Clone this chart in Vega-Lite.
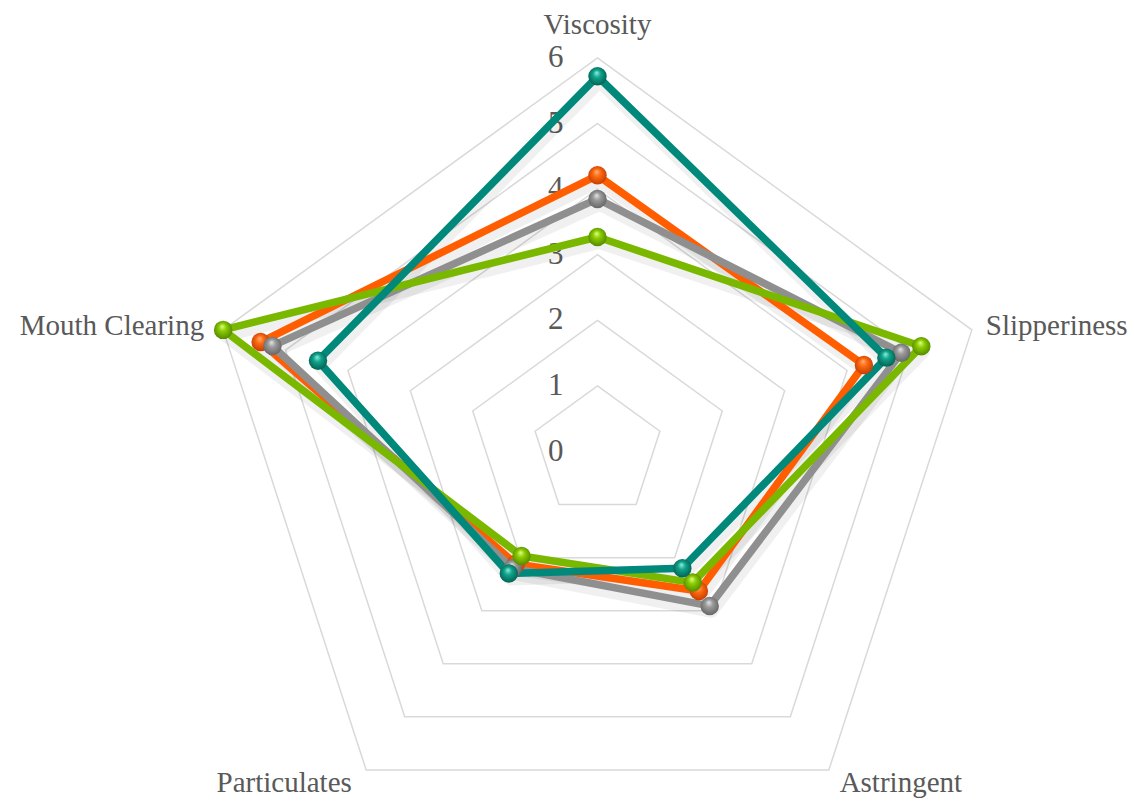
{
  "$schema": "https://vega.github.io/schema/vega-lite/v6.json",
  "width": 1134,
  "height": 801,
  "autosize": "none",
  "padding": 0,
  "background": "#ffffff",
  "config": {"view": {"stroke": null}, "font": "Liberation Serif"},
  "datasets": {
    "scores": [
      {"sample": "Sample 1", "attribute": "Viscosity", "k": 0, "score": 4.21},
      {"sample": "Sample 1", "attribute": "Slipperiness", "k": 1, "score": 4.27},
      {"sample": "Sample 1", "attribute": "Astringent", "k": 2, "score": 2.63},
      {"sample": "Sample 1", "attribute": "Particulates", "k": 3, "score": 2.12},
      {"sample": "Sample 1", "attribute": "Mouth Clearing", "k": 4, "score": 5.4},
      {"sample": "Sample 2", "attribute": "Viscosity", "k": 0, "score": 3.85},
      {"sample": "Sample 2", "attribute": "Slipperiness", "k": 1, "score": 4.87},
      {"sample": "Sample 2", "attribute": "Astringent", "k": 2, "score": 2.91},
      {"sample": "Sample 2", "attribute": "Particulates", "k": 3, "score": 2.2},
      {"sample": "Sample 2", "attribute": "Mouth Clearing", "k": 4, "score": 5.21},
      {"sample": "Sample 3", "attribute": "Viscosity", "k": 0, "score": 3.27},
      {"sample": "Sample 3", "attribute": "Slipperiness", "k": 1, "score": 5.19},
      {"sample": "Sample 3", "attribute": "Astringent", "k": 2, "score": 2.47},
      {"sample": "Sample 3", "attribute": "Particulates", "k": 3, "score": 1.97},
      {"sample": "Sample 3", "attribute": "Mouth Clearing", "k": 4, "score": 6.0},
      {"sample": "Sample 4", "attribute": "Viscosity", "k": 0, "score": 5.72},
      {"sample": "Sample 4", "attribute": "Slipperiness", "k": 1, "score": 4.63},
      {"sample": "Sample 4", "attribute": "Astringent", "k": 2, "score": 2.2},
      {"sample": "Sample 4", "attribute": "Particulates", "k": 3, "score": 2.3},
      {"sample": "Sample 4", "attribute": "Mouth Clearing", "k": 4, "score": 4.48}
    ],
    "attributes": [
      {"attribute": "Viscosity", "k": 0, "rings": [1, 2, 3, 4, 5, 6]},
      {"attribute": "Slipperiness", "k": 1, "rings": [1, 2, 3, 4, 5, 6]},
      {"attribute": "Astringent", "k": 2, "rings": [1, 2, 3, 4, 5, 6]},
      {"attribute": "Particulates", "k": 3, "rings": [1, 2, 3, 4, 5, 6]},
      {"attribute": "Mouth Clearing", "k": 4, "rings": [1, 2, 3, 4, 5, 6]}
    ],
    "ticks": [
      {"tick": 0}, {"tick": 1}, {"tick": 2}, {"tick": 3}, {"tick": 4}, {"tick": 5}, {"tick": 6}
    ]
  },
  "layer": [
    {
      "data": {"name": "attributes"},
      "transform": [
        {"flatten": ["rings"], "as": ["ring"]},
        {"calculate": "datum.ring * sin(datum.k * 2 * PI / 5)", "as": "px"},
        {"calculate": "datum.ring * cos(datum.k * 2 * PI / 5)", "as": "py"}
      ],
      "mark": {"type": "line", "interpolate": "linear-closed", "color": "#d9d9d9", "strokeWidth": 1.5},
      "encoding": {
        "x": {"field": "px", "type": "quantitative", "scale": {"domain": [-9.108, 8.178], "nice": false, "zero": false}, "axis": null},
        "y": {"field": "py", "type": "quantitative", "scale": {"domain": [-5.328, 6.883], "nice": false, "zero": false}, "axis": null},
        "detail": {"field": "ring"},
        "order": {"field": "k"}
      }
    },
    {
      "data": {"name": "ticks"},
      "transform": [
        {"calculate": "0", "as": "px"},
        {"calculate": "datum.tick", "as": "py"}
      ],
      "mark": {"type": "text", "align": "right", "baseline": "middle", "dx": -34, "fontSize": 31, "color": "#595959"},
      "encoding": {
        "x": {"field": "px", "type": "quantitative"},
        "y": {"field": "py", "type": "quantitative"},
        "text": {"field": "tick", "type": "quantitative"}
      }
    },
    {
      "data": {"name": "attributes"},
      "transform": [
        {"filter": "datum.k == 0"},
        {"calculate": "6 * sin(datum.k * 2 * PI / 5)", "as": "px"},
        {"calculate": "6 * cos(datum.k * 2 * PI / 5)", "as": "py"}
      ],
      "mark": {"type": "text", "align": "center", "baseline": "alphabetic", "dy": -24, "fontSize": 29, "color": "#595959"},
      "encoding": {
        "x": {"field": "px", "type": "quantitative"},
        "y": {"field": "py", "type": "quantitative"},
        "text": {"field": "attribute"}
      }
    },
    {
      "data": {"name": "attributes"},
      "transform": [
        {"filter": "datum.k == 1"},
        {"calculate": "6 * sin(datum.k * 2 * PI / 5)", "as": "px"},
        {"calculate": "6 * cos(datum.k * 2 * PI / 5)", "as": "py"}
      ],
      "mark": {"type": "text", "align": "left", "baseline": "alphabetic", "dx": 14, "dy": 5, "fontSize": 29, "color": "#595959"},
      "encoding": {
        "x": {"field": "px", "type": "quantitative"},
        "y": {"field": "py", "type": "quantitative"},
        "text": {"field": "attribute"}
      }
    },
    {
      "data": {"name": "attributes"},
      "transform": [
        {"filter": "datum.k == 2"},
        {"calculate": "6 * sin(datum.k * 2 * PI / 5)", "as": "px"},
        {"calculate": "6 * cos(datum.k * 2 * PI / 5)", "as": "py"}
      ],
      "mark": {"type": "text", "align": "center", "baseline": "alphabetic", "dx": 72, "dy": 22, "fontSize": 29, "color": "#595959"},
      "encoding": {
        "x": {"field": "px", "type": "quantitative"},
        "y": {"field": "py", "type": "quantitative"},
        "text": {"field": "attribute"}
      }
    },
    {
      "data": {"name": "attributes"},
      "transform": [
        {"filter": "datum.k == 3"},
        {"calculate": "6 * sin(datum.k * 2 * PI / 5)", "as": "px"},
        {"calculate": "6 * cos(datum.k * 2 * PI / 5)", "as": "py"}
      ],
      "mark": {"type": "text", "align": "center", "baseline": "alphabetic", "dx": -82, "dy": 22, "fontSize": 29, "color": "#595959"},
      "encoding": {
        "x": {"field": "px", "type": "quantitative"},
        "y": {"field": "py", "type": "quantitative"},
        "text": {"field": "attribute"}
      }
    },
    {
      "data": {"name": "attributes"},
      "transform": [
        {"filter": "datum.k == 4"},
        {"calculate": "6 * sin(datum.k * 2 * PI / 5)", "as": "px"},
        {"calculate": "6 * cos(datum.k * 2 * PI / 5)", "as": "py"}
      ],
      "mark": {"type": "text", "align": "right", "baseline": "alphabetic", "dx": -19, "dy": 5, "fontSize": 29, "color": "#595959"},
      "encoding": {
        "x": {"field": "px", "type": "quantitative"},
        "y": {"field": "py", "type": "quantitative"},
        "text": {"field": "attribute"}
      }
    },
    {
      "data": {"name": "scores"},
      "transform": [
        {"calculate": "datum.score * sin(datum.k * 2 * PI / 5)", "as": "px"},
        {"calculate": "datum.score * cos(datum.k * 2 * PI / 5)", "as": "py"}
      ],
      "layer": [
        {
          "mark": {"type": "line", "interpolate": "linear-closed", "color": "#000000", "opacity": 0.06, "strokeWidth": 12, "xOffset": 2, "yOffset": 6, "strokeJoin": "round"},
          "encoding": {
            "x": {"field": "px", "type": "quantitative"},
            "y": {"field": "py", "type": "quantitative"},
            "detail": {"field": "sample"},
            "order": {"field": "k"}
          }
        },
        {
          "transform": [{"filter": "datum.sample == 'Sample 1'"}],
          "mark": {"type": "line", "interpolate": "linear-closed", "color": "#ff5d00", "strokeWidth": 7.5, "strokeJoin": "round"},
          "encoding": {"x": {"field": "px", "type": "quantitative"}, "y": {"field": "py", "type": "quantitative"}, "order": {"field": "k"}}
        },
        {
          "transform": [{"filter": "datum.sample == 'Sample 2'"}],
          "mark": {"type": "line", "interpolate": "linear-closed", "color": "#8f8f8f", "strokeWidth": 7.5, "strokeJoin": "round"},
          "encoding": {"x": {"field": "px", "type": "quantitative"}, "y": {"field": "py", "type": "quantitative"}, "order": {"field": "k"}}
        },
        {
          "transform": [{"filter": "datum.sample == 'Sample 3'"}],
          "mark": {"type": "line", "interpolate": "linear-closed", "color": "#7ab800", "strokeWidth": 7.5, "strokeJoin": "round"},
          "encoding": {"x": {"field": "px", "type": "quantitative"}, "y": {"field": "py", "type": "quantitative"}, "order": {"field": "k"}}
        },
        {
          "transform": [{"filter": "datum.sample == 'Sample 4'"}],
          "mark": {"type": "line", "interpolate": "linear-closed", "color": "#00897a", "strokeWidth": 7.5, "strokeJoin": "round"},
          "encoding": {"x": {"field": "px", "type": "quantitative"}, "y": {"field": "py", "type": "quantitative"}, "order": {"field": "k"}}
        },
        {
          "transform": [{"filter": "datum.sample == 'Sample 1'"}],
          "mark": {"type": "point", "shape": "circle", "filled": true, "size": 340, "opacity": 1,
            "fill": {"gradient": "radial", "x1": 0.45, "y1": 0.3, "r1": 0, "x2": 0.5, "y2": 0.5, "r2": 0.6,
              "stops": [{"offset": 0, "color": "#ffb27a"}, {"offset": 0.35, "color": "#ff6a10"}, {"offset": 1, "color": "#b83400"}]}},
          "encoding": {"x": {"field": "px", "type": "quantitative"}, "y": {"field": "py", "type": "quantitative"}}
        },
        {
          "transform": [{"filter": "datum.sample == 'Sample 2'"}],
          "mark": {"type": "point", "shape": "circle", "filled": true, "size": 340, "opacity": 1,
            "fill": {"gradient": "radial", "x1": 0.45, "y1": 0.3, "r1": 0, "x2": 0.5, "y2": 0.5, "r2": 0.6,
              "stops": [{"offset": 0, "color": "#e6e6e6"}, {"offset": 0.35, "color": "#9a9a9a"}, {"offset": 1, "color": "#5c5c5c"}]}},
          "encoding": {"x": {"field": "px", "type": "quantitative"}, "y": {"field": "py", "type": "quantitative"}}
        },
        {
          "transform": [{"filter": "datum.sample == 'Sample 3'"}],
          "mark": {"type": "point", "shape": "circle", "filled": true, "size": 340, "opacity": 1,
            "fill": {"gradient": "radial", "x1": 0.45, "y1": 0.3, "r1": 0, "x2": 0.5, "y2": 0.5, "r2": 0.6,
              "stops": [{"offset": 0, "color": "#e2ff8a"}, {"offset": 0.35, "color": "#8acc00"}, {"offset": 1, "color": "#4a7a00"}]}},
          "encoding": {"x": {"field": "px", "type": "quantitative"}, "y": {"field": "py", "type": "quantitative"}}
        },
        {
          "transform": [{"filter": "datum.sample == 'Sample 4'"}],
          "mark": {"type": "point", "shape": "circle", "filled": true, "size": 340, "opacity": 1,
            "fill": {"gradient": "radial", "x1": 0.45, "y1": 0.3, "r1": 0, "x2": 0.5, "y2": 0.5, "r2": 0.6,
              "stops": [{"offset": 0, "color": "#8ef0dc"}, {"offset": 0.35, "color": "#10a38c"}, {"offset": 1, "color": "#005446"}]}},
          "encoding": {"x": {"field": "px", "type": "quantitative"}, "y": {"field": "py", "type": "quantitative"}}
        }
      ]
    }
  ]
}
